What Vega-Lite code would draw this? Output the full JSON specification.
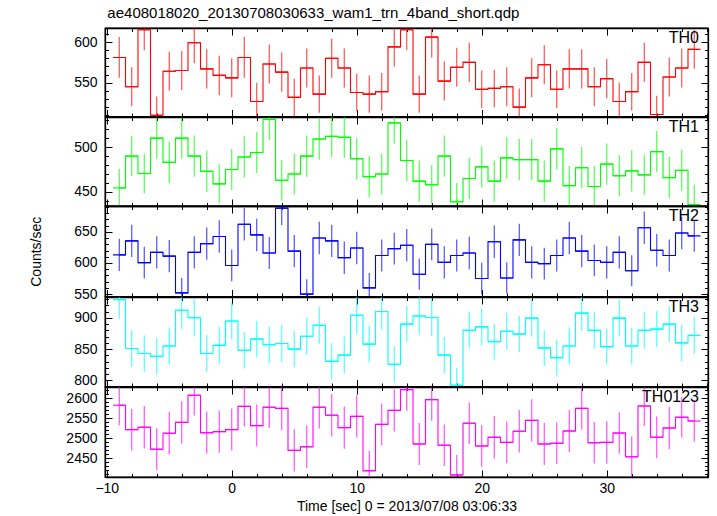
{
"$schema": "https://vega.github.io/schema/vega-lite/v6.json",
"padding": {"left": 28, "top": 5, "right": 7, "bottom": 0},
"title": {"text": "ae408018020_20130708030633_wam1_trn_4band_short.qdp", "anchor": "start", "dx": 79, "fontSize": 15, "fontWeight": "normal", "font": "Liberation Sans", "color": "black", "offset": 6},
"data": {"values": [
{"band":"TH0","t":-9,"rate":581,"err":25},{"band":"TH0","t":-8,"rate":545,"err":24},{"band":"TH0","t":-7,"rate":615,"err":25},{"band":"TH0","t":-6,"rate":510,"err":23},{"band":"TH0","t":-5,"rate":564,"err":24},{"band":"TH0","t":-4,"rate":565,"err":24},{"band":"TH0","t":-3,"rate":599,"err":25},{"band":"TH0","t":-2,"rate":567,"err":24},{"band":"TH0","t":-1,"rate":559,"err":24},{"band":"TH0","t":0,"rate":556,"err":24},{"band":"TH0","t":1,"rate":581,"err":25},{"band":"TH0","t":2,"rate":527,"err":23},{"band":"TH0","t":3,"rate":573,"err":24},{"band":"TH0","t":4,"rate":563,"err":24},{"band":"TH0","t":5,"rate":532,"err":23},{"band":"TH0","t":6,"rate":568,"err":24},{"band":"TH0","t":7,"rate":536,"err":23},{"band":"TH0","t":8,"rate":580,"err":24},{"band":"TH0","t":9,"rate":568,"err":24},{"band":"TH0","t":10,"rate":538,"err":23},{"band":"TH0","t":11,"rate":536,"err":23},{"band":"TH0","t":12,"rate":539,"err":23},{"band":"TH0","t":13,"rate":594,"err":24},{"band":"TH0","t":14,"rate":615,"err":25},{"band":"TH0","t":15,"rate":536,"err":23},{"band":"TH0","t":16,"rate":606,"err":25},{"band":"TH0","t":17,"rate":552,"err":24},{"band":"TH0","t":18,"rate":569,"err":24},{"band":"TH0","t":19,"rate":575,"err":24},{"band":"TH0","t":20,"rate":542,"err":23},{"band":"TH0","t":21,"rate":543,"err":23},{"band":"TH0","t":22,"rate":545,"err":24},{"band":"TH0","t":23,"rate":520,"err":23},{"band":"TH0","t":24,"rate":556,"err":24},{"band":"TH0","t":25,"rate":572,"err":24},{"band":"TH0","t":26,"rate":542,"err":23},{"band":"TH0","t":27,"rate":567,"err":24},{"band":"TH0","t":28,"rate":567,"err":24},{"band":"TH0","t":29,"rate":545,"err":24},{"band":"TH0","t":30,"rate":555,"err":24},{"band":"TH0","t":31,"rate":527,"err":23},{"band":"TH0","t":32,"rate":539,"err":23},{"band":"TH0","t":33,"rate":575,"err":24},{"band":"TH0","t":34,"rate":511,"err":23},{"band":"TH0","t":35,"rate":557,"err":24},{"band":"TH0","t":36,"rate":568,"err":24},{"band":"TH0","t":37,"rate":591,"err":24},
{"band":"TH1","t":-9,"rate":454.5,"err":21.5},{"band":"TH1","t":-8,"rate":490,"err":22.5},{"band":"TH1","t":-7,"rate":470.5,"err":22},{"band":"TH1","t":-6,"rate":510,"err":23},{"band":"TH1","t":-5,"rate":483,"err":23},{"band":"TH1","t":-4,"rate":510,"err":23},{"band":"TH1","t":-3,"rate":490,"err":23},{"band":"TH1","t":-2,"rate":473,"err":23},{"band":"TH1","t":-1,"rate":459,"err":22},{"band":"TH1","t":0,"rate":475,"err":23},{"band":"TH1","t":1,"rate":489,"err":23},{"band":"TH1","t":2,"rate":494,"err":23},{"band":"TH1","t":3,"rate":531,"err":23},{"band":"TH1","t":4,"rate":463,"err":22.5},{"band":"TH1","t":5,"rate":470,"err":23},{"band":"TH1","t":6,"rate":490,"err":23},{"band":"TH1","t":7,"rate":509,"err":23},{"band":"TH1","t":8,"rate":512,"err":23},{"band":"TH1","t":9,"rate":511,"err":23},{"band":"TH1","t":10,"rate":487,"err":23},{"band":"TH1","t":11,"rate":467,"err":23},{"band":"TH1","t":12,"rate":470,"err":23},{"band":"TH1","t":13,"rate":527,"err":23},{"band":"TH1","t":14,"rate":485,"err":23},{"band":"TH1","t":15,"rate":462,"err":23},{"band":"TH1","t":16,"rate":458,"err":22},{"band":"TH1","t":17,"rate":490,"err":23},{"band":"TH1","t":18,"rate":439,"err":21},{"band":"TH1","t":19,"rate":465,"err":23},{"band":"TH1","t":20,"rate":478,"err":23},{"band":"TH1","t":21,"rate":462,"err":23},{"band":"TH1","t":22,"rate":488,"err":23},{"band":"TH1","t":23,"rate":486,"err":23},{"band":"TH1","t":24,"rate":486,"err":23},{"band":"TH1","t":25,"rate":462,"err":23},{"band":"TH1","t":26,"rate":498,"err":23},{"band":"TH1","t":27,"rate":457,"err":22},{"band":"TH1","t":28,"rate":477,"err":23},{"band":"TH1","t":29,"rate":456,"err":23},{"band":"TH1","t":30,"rate":481,"err":23},{"band":"TH1","t":31,"rate":468,"err":23},{"band":"TH1","t":32,"rate":473.5,"err":23},{"band":"TH1","t":33,"rate":469,"err":22.5},{"band":"TH1","t":34,"rate":495,"err":23},{"band":"TH1","t":35,"rate":466,"err":23},{"band":"TH1","t":36,"rate":474,"err":23},{"band":"TH1","t":37,"rate":436,"err":22},
{"band":"TH2","t":-9,"rate":613,"err":26},{"band":"TH2","t":-8,"rate":635.5,"err":26},{"band":"TH2","t":-7,"rate":600.5,"err":25.5},{"band":"TH2","t":-6,"rate":617,"err":26},{"band":"TH2","t":-5,"rate":611,"err":26},{"band":"TH2","t":-4,"rate":552,"err":24},{"band":"TH2","t":-3,"rate":617,"err":26},{"band":"TH2","t":-2,"rate":631,"err":26},{"band":"TH2","t":-1,"rate":642.5,"err":26},{"band":"TH2","t":0,"rate":596,"err":25.5},{"band":"TH2","t":1,"rate":662,"err":26},{"band":"TH2","t":2,"rate":645,"err":26},{"band":"TH2","t":3,"rate":616,"err":25.5},{"band":"TH2","t":4,"rate":688,"err":27},{"band":"TH2","t":5,"rate":619,"err":26},{"band":"TH2","t":6,"rate":550,"err":24},{"band":"TH2","t":7,"rate":640,"err":26},{"band":"TH2","t":8,"rate":635.5,"err":26},{"band":"TH2","t":9,"rate":608.5,"err":26},{"band":"TH2","t":10,"rate":624,"err":26},{"band":"TH2","t":11,"rate":560,"err":24},{"band":"TH2","t":12,"rate":612,"err":25.5},{"band":"TH2","t":13,"rate":623,"err":25.5},{"band":"TH2","t":14,"rate":628.5,"err":26},{"band":"TH2","t":15,"rate":582,"err":25},{"band":"TH2","t":16,"rate":630,"err":25.5},{"band":"TH2","t":17,"rate":601,"err":26},{"band":"TH2","t":18,"rate":612,"err":25.5},{"band":"TH2","t":19,"rate":616,"err":26},{"band":"TH2","t":20,"rate":575,"err":25.5},{"band":"TH2","t":21,"rate":634,"err":26},{"band":"TH2","t":22,"rate":576,"err":25},{"band":"TH2","t":23,"rate":637,"err":26},{"band":"TH2","t":24,"rate":601,"err":26},{"band":"TH2","t":25,"rate":599,"err":25.5},{"band":"TH2","t":26,"rate":612,"err":25.5},{"band":"TH2","t":27,"rate":640,"err":26},{"band":"TH2","t":28,"rate":619,"err":26},{"band":"TH2","t":29,"rate":604,"err":25.5},{"band":"TH2","t":30,"rate":601,"err":26},{"band":"TH2","t":31,"rate":617,"err":26},{"band":"TH2","t":32,"rate":587.5,"err":25},{"band":"TH2","t":33,"rate":656.5,"err":26},{"band":"TH2","t":34,"rate":620.5,"err":26},{"band":"TH2","t":35,"rate":612,"err":25.5},{"band":"TH2","t":36,"rate":648,"err":26},{"band":"TH2","t":37,"rate":643.5,"err":25.5},
{"band":"TH3","t":-9,"rate":929,"err":30},{"band":"TH3","t":-8,"rate":851,"err":29},{"band":"TH3","t":-7,"rate":843,"err":29},{"band":"TH3","t":-6,"rate":838.5,"err":29},{"band":"TH3","t":-5,"rate":855,"err":29.5},{"band":"TH3","t":-4,"rate":912,"err":30},{"band":"TH3","t":-3,"rate":900,"err":30},{"band":"TH3","t":-2,"rate":843,"err":29},{"band":"TH3","t":-1,"rate":856,"err":29.5},{"band":"TH3","t":0,"rate":895,"err":29.5},{"band":"TH3","t":1,"rate":848,"err":29},{"band":"TH3","t":2,"rate":866,"err":29},{"band":"TH3","t":3,"rate":857,"err":29.5},{"band":"TH3","t":4,"rate":859,"err":29.5},{"band":"TH3","t":5,"rate":850,"err":29},{"band":"TH3","t":6,"rate":870.5,"err":29.5},{"band":"TH3","t":7,"rate":888,"err":29.5},{"band":"TH3","t":8,"rate":830.5,"err":29},{"band":"TH3","t":9,"rate":840.5,"err":29.5},{"band":"TH3","t":10,"rate":904,"err":29.5},{"band":"TH3","t":11,"rate":858,"err":29},{"band":"TH3","t":12,"rate":910,"err":29},{"band":"TH3","t":13,"rate":826,"err":29},{"band":"TH3","t":14,"rate":890,"err":29},{"band":"TH3","t":15,"rate":903,"err":30},{"band":"TH3","t":16,"rate":900.5,"err":29.5},{"band":"TH3","t":17,"rate":840.5,"err":29},{"band":"TH3","t":18,"rate":792.5,"err":28},{"band":"TH3","t":19,"rate":880,"err":29.5},{"band":"TH3","t":20,"rate":885.5,"err":29.5},{"band":"TH3","t":21,"rate":862,"err":29},{"band":"TH3","t":22,"rate":878.5,"err":29.5},{"band":"TH3","t":23,"rate":874,"err":29},{"band":"TH3","t":24,"rate":899.5,"err":29.5},{"band":"TH3","t":25,"rate":852,"err":29},{"band":"TH3","t":26,"rate":836.5,"err":29},{"band":"TH3","t":27,"rate":855,"err":29.5},{"band":"TH3","t":28,"rate":907.5,"err":28.5},{"band":"TH3","t":29,"rate":880,"err":29.5},{"band":"TH3","t":30,"rate":854,"err":29},{"band":"TH3","t":31,"rate":899.5,"err":29},{"band":"TH3","t":32,"rate":855,"err":29.5},{"band":"TH3","t":33,"rate":880,"err":29.5},{"band":"TH3","t":34,"rate":882,"err":29},{"band":"TH3","t":35,"rate":890,"err":29},{"band":"TH3","t":36,"rate":860,"err":29},{"band":"TH3","t":37,"rate":872,"err":29.5},
{"band":"TH0123","t":-9,"rate":2582,"err":50},{"band":"TH0123","t":-8,"rate":2521,"err":52},{"band":"TH0123","t":-7,"rate":2527,"err":53},{"band":"TH0123","t":-6,"rate":2472,"err":52.5},{"band":"TH0123","t":-5,"rate":2512,"err":53},{"band":"TH0123","t":-4,"rate":2539,"err":53},{"band":"TH0123","t":-3,"rate":2607,"err":51},{"band":"TH0123","t":-2,"rate":2513,"err":52.5},{"band":"TH0123","t":-1,"rate":2516,"err":53},{"band":"TH0123","t":0,"rate":2521,"err":52.5},{"band":"TH0123","t":1,"rate":2579,"err":50},{"band":"TH0123","t":2,"rate":2531,"err":52.5},{"band":"TH0123","t":3,"rate":2577,"err":52},{"band":"TH0123","t":4,"rate":2574,"err":54},{"band":"TH0123","t":5,"rate":2469,"err":53},{"band":"TH0123","t":6,"rate":2478,"err":53},{"band":"TH0123","t":7,"rate":2577,"err":53},{"band":"TH0123","t":8,"rate":2557,"err":53},{"band":"TH0123","t":9,"rate":2526,"err":53},{"band":"TH0123","t":10,"rate":2554,"err":53},{"band":"TH0123","t":11,"rate":2418,"err":50},{"band":"TH0123","t":12,"rate":2534,"err":52},{"band":"TH0123","t":13,"rate":2569,"err":53},{"band":"TH0123","t":14,"rate":2621,"err":53},{"band":"TH0123","t":15,"rate":2485,"err":52.5},{"band":"TH0123","t":16,"rate":2596,"err":53},{"band":"TH0123","t":17,"rate":2482,"err":52},{"band":"TH0123","t":18,"rate":2407.5,"err":50},{"band":"TH0123","t":19,"rate":2537,"err":52},{"band":"TH0123","t":20,"rate":2480,"err":52},{"band":"TH0123","t":21,"rate":2502,"err":53},{"band":"TH0123","t":22,"rate":2489,"err":52},{"band":"TH0123","t":23,"rate":2517,"err":53},{"band":"TH0123","t":24,"rate":2544,"err":53},{"band":"TH0123","t":25,"rate":2485,"err":52.5},{"band":"TH0123","t":26,"rate":2487,"err":52},{"band":"TH0123","t":27,"rate":2517.5,"err":52.5},{"band":"TH0123","t":28,"rate":2574,"err":53},{"band":"TH0123","t":29,"rate":2488,"err":52},{"band":"TH0123","t":30,"rate":2489,"err":53},{"band":"TH0123","t":31,"rate":2512.5,"err":52},{"band":"TH0123","t":32,"rate":2453,"err":51},{"band":"TH0123","t":33,"rate":2580,"err":50},{"band":"TH0123","t":34,"rate":2502,"err":52},{"band":"TH0123","t":35,"rate":2525,"err":53},{"band":"TH0123","t":36,"rate":2552,"err":51},{"band":"TH0123","t":37,"rate":2542.5,"err":52}
]},
"vconcat": [
{"height": 88.5, "width": 603,
 "title": {"text": "TH0", "anchor": "end", "frame": "group", "offset": -18, "dx": -9, "fontSize": 16, "fontWeight": "normal", "font": "Liberation Sans", "color": "black"},
 "transform": [{"filter": "datum.band === 'TH0'"}],
 "layer": [
  {"mark": {"type": "tick", "orient": "horizontal", "size": 12.5, "thickness": 1.1, "color": "#ff0000", "opacity": 1, "clip": true},
   "encoding": {
    "x": {"field": "t", "type": "quantitative", "scale": {"domain": [-10.14, 38.1], "nice": false, "zero": false}, "axis": {"orient": "bottom", "values": [-10,-8,-6,-4,-2,0,2,4,6,8,10,12,14,16,18,20,22,24,26,28,30,32,34,36,38], "tickSize": {"condition": {"test": "datum.value % 10 === 0", "value": -7}, "value": -3.5}, "labels": false, "title": null}},
    "y": {"field": "rate", "type": "quantitative", "scale": {"domain": [508.5, 617.2], "nice": false, "zero": false}, "axis": {"orient": "left", "values": [510,520,530,540,550,560,570,580,590,600,610], "tickSize": {"condition": {"test": "datum.value % 50 === 0", "value": -7}, "value": -3.5}, "labelExpr": "datum.value % 50 === 0 ? datum.label : ''", "format": "d", "title": null}}}},
  {"mark": {"type": "line", "interpolate": "step", "color": "#ff0000", "strokeWidth": 1.1, "clip": true},
   "encoding": {
    "x": {"field": "t", "type": "quantitative", "scale": {"domain": [-10.14, 38.1], "nice": false, "zero": false}, "axis": {"orient": "top", "values": [-10,-8,-6,-4,-2,0,2,4,6,8,10,12,14,16,18,20,22,24,26,28,30,32,34,36,38], "tickSize": {"condition": {"test": "datum.value % 10 === 0", "value": -7}, "value": -3.5}, "labels": false, "title": null}},
    "y": {"field": "rate", "type": "quantitative", "scale": {"domain": [508.5, 617.2], "nice": false, "zero": false}, "axis": {"orient": "right", "values": [510,520,530,540,550,560,570,580,590,600,610], "tickSize": {"condition": {"test": "datum.value % 50 === 0", "value": -7}, "value": -3.5}, "labels": false, "title": null}}}},
  {"mark": {"type": "errorbar", "color": "#ff0000", "thickness": 1.1, "opacity": 0.75, "clip": true},
   "encoding": {
    "x": {"field": "t", "type": "quantitative", "scale": {"domain": [-10.14, 38.1], "nice": false, "zero": false}, "axis": null},
    "y": {"field": "rate", "type": "quantitative", "scale": {"domain": [508.5, 617.2], "nice": false, "zero": false}, "axis": null},
    "yError": {"field": "err"}}}
 ],
 "resolve": {"axis": {"x": "independent", "y": "independent"}}
},
{"height": 89, "width": 603,
 "title": {"text": "TH1", "anchor": "end", "frame": "group", "offset": -18, "dx": -9, "fontSize": 16, "fontWeight": "normal", "font": "Liberation Sans", "color": "black"},
 "transform": [{"filter": "datum.band === 'TH1'"}],
 "layer": [
  {"mark": {"type": "tick", "orient": "horizontal", "size": 12.5, "thickness": 1.1, "color": "#00ff00", "opacity": 1, "clip": true},
   "encoding": {
    "x": {"field": "t", "type": "quantitative", "scale": {"domain": [-10.14, 38.1], "nice": false, "zero": false}, "axis": {"orient": "bottom", "values": [-10,-8,-6,-4,-2,0,2,4,6,8,10,12,14,16,18,20,22,24,26,28,30,32,34,36,38], "tickSize": {"condition": {"test": "datum.value % 10 === 0", "value": -7}, "value": -3.5}, "labels": false, "title": null}},
    "y": {"field": "rate", "type": "quantitative", "scale": {"domain": [434.3, 533.6], "nice": false, "zero": false}, "axis": {"orient": "left", "values": [440,450,460,470,480,490,500,510,520,530], "tickSize": {"condition": {"test": "datum.value % 50 === 0", "value": -7}, "value": -3.5}, "labelExpr": "datum.value % 50 === 0 ? datum.label : ''", "format": "d", "title": null}}}},
  {"mark": {"type": "line", "interpolate": "step", "color": "#00ff00", "strokeWidth": 1.1, "clip": true},
   "encoding": {
    "x": {"field": "t", "type": "quantitative", "scale": {"domain": [-10.14, 38.1], "nice": false, "zero": false}, "axis": {"orient": "top", "values": [-10,-8,-6,-4,-2,0,2,4,6,8,10,12,14,16,18,20,22,24,26,28,30,32,34,36,38], "tickSize": {"condition": {"test": "datum.value % 10 === 0", "value": -7}, "value": -3.5}, "labels": false, "title": null}},
    "y": {"field": "rate", "type": "quantitative", "scale": {"domain": [434.3, 533.6], "nice": false, "zero": false}, "axis": {"orient": "right", "values": [440,450,460,470,480,490,500,510,520,530], "tickSize": {"condition": {"test": "datum.value % 50 === 0", "value": -7}, "value": -3.5}, "labels": false, "title": null}}}},
  {"mark": {"type": "errorbar", "color": "#00ff00", "thickness": 1.1, "opacity": 0.75, "clip": true},
   "encoding": {
    "x": {"field": "t", "type": "quantitative", "scale": {"domain": [-10.14, 38.1], "nice": false, "zero": false}, "axis": null},
    "y": {"field": "rate", "type": "quantitative", "scale": {"domain": [434.3, 533.6], "nice": false, "zero": false}, "axis": null},
    "yError": {"field": "err"}}}
 ],
 "resolve": {"axis": {"x": "independent", "y": "independent"}}
},
{"height": 90.5, "width": 603,
 "title": {"text": "TH2", "anchor": "end", "frame": "group", "offset": -18, "dx": -9, "fontSize": 16, "fontWeight": "normal", "font": "Liberation Sans", "color": "black"},
 "transform": [{"filter": "datum.band === 'TH2'"}],
 "layer": [
  {"mark": {"type": "tick", "orient": "horizontal", "size": 12.5, "thickness": 1.1, "color": "#0000ff", "opacity": 1, "clip": true},
   "encoding": {
    "x": {"field": "t", "type": "quantitative", "scale": {"domain": [-10.14, 38.1], "nice": false, "zero": false}, "axis": {"orient": "bottom", "values": [-10,-8,-6,-4,-2,0,2,4,6,8,10,12,14,16,18,20,22,24,26,28,30,32,34,36,38], "tickSize": {"condition": {"test": "datum.value % 10 === 0", "value": -7}, "value": -3.5}, "labels": false, "title": null}},
    "y": {"field": "rate", "type": "quantitative", "scale": {"domain": [546.2, 691.4], "nice": false, "zero": false}, "axis": {"orient": "left", "values": [550,560,570,580,590,600,610,620,630,640,650,660,670,680,690], "tickSize": {"condition": {"test": "datum.value % 50 === 0", "value": -7}, "value": -3.5}, "labelExpr": "datum.value % 50 === 0 ? datum.label : ''", "format": "d", "title": "Counts/sec", "titleX": -62}}}},
  {"mark": {"type": "line", "interpolate": "step", "color": "#0000ff", "strokeWidth": 1.1, "clip": true},
   "encoding": {
    "x": {"field": "t", "type": "quantitative", "scale": {"domain": [-10.14, 38.1], "nice": false, "zero": false}, "axis": {"orient": "top", "values": [-10,-8,-6,-4,-2,0,2,4,6,8,10,12,14,16,18,20,22,24,26,28,30,32,34,36,38], "tickSize": {"condition": {"test": "datum.value % 10 === 0", "value": -7}, "value": -3.5}, "labels": false, "title": null}},
    "y": {"field": "rate", "type": "quantitative", "scale": {"domain": [546.2, 691.4], "nice": false, "zero": false}, "axis": {"orient": "right", "values": [550,560,570,580,590,600,610,620,630,640,650,660,670,680,690], "tickSize": {"condition": {"test": "datum.value % 50 === 0", "value": -7}, "value": -3.5}, "labels": false, "title": null}}}},
  {"mark": {"type": "errorbar", "color": "#0000ff", "thickness": 1.1, "opacity": 0.75, "clip": true},
   "encoding": {
    "x": {"field": "t", "type": "quantitative", "scale": {"domain": [-10.14, 38.1], "nice": false, "zero": false}, "axis": null},
    "y": {"field": "rate", "type": "quantitative", "scale": {"domain": [546.2, 691.4], "nice": false, "zero": false}, "axis": null},
    "yError": {"field": "err"}}}
 ],
 "resolve": {"axis": {"x": "independent", "y": "independent"}}
},
{"height": 89.5, "width": 603,
 "title": {"text": "TH3", "anchor": "end", "frame": "group", "offset": -18, "dx": -9, "fontSize": 16, "fontWeight": "normal", "font": "Liberation Sans", "color": "black"},
 "transform": [{"filter": "datum.band === 'TH3'"}],
 "layer": [
  {"mark": {"type": "tick", "orient": "horizontal", "size": 12.5, "thickness": 1.1, "color": "#00ffff", "opacity": 1, "clip": true},
   "encoding": {
    "x": {"field": "t", "type": "quantitative", "scale": {"domain": [-10.14, 38.1], "nice": false, "zero": false}, "axis": {"orient": "bottom", "values": [-10,-8,-6,-4,-2,0,2,4,6,8,10,12,14,16,18,20,22,24,26,28,30,32,34,36,38], "tickSize": {"condition": {"test": "datum.value % 10 === 0", "value": -7}, "value": -3.5}, "labels": false, "title": null}},
    "y": {"field": "rate", "type": "quantitative", "scale": {"domain": [790.4, 933.2], "nice": false, "zero": false}, "axis": {"orient": "left", "values": [800,810,820,830,840,850,860,870,880,890,900,910,920,930], "tickSize": {"condition": {"test": "datum.value % 50 === 0", "value": -7}, "value": -3.5}, "labelExpr": "datum.value % 50 === 0 ? datum.label : ''", "format": "d", "title": null}}}},
  {"mark": {"type": "line", "interpolate": "step", "color": "#00ffff", "strokeWidth": 1.1, "clip": true},
   "encoding": {
    "x": {"field": "t", "type": "quantitative", "scale": {"domain": [-10.14, 38.1], "nice": false, "zero": false}, "axis": {"orient": "top", "values": [-10,-8,-6,-4,-2,0,2,4,6,8,10,12,14,16,18,20,22,24,26,28,30,32,34,36,38], "tickSize": {"condition": {"test": "datum.value % 10 === 0", "value": -7}, "value": -3.5}, "labels": false, "title": null}},
    "y": {"field": "rate", "type": "quantitative", "scale": {"domain": [790.4, 933.2], "nice": false, "zero": false}, "axis": {"orient": "right", "values": [800,810,820,830,840,850,860,870,880,890,900,910,920,930], "tickSize": {"condition": {"test": "datum.value % 50 === 0", "value": -7}, "value": -3.5}, "labels": false, "title": null}}}},
  {"mark": {"type": "errorbar", "color": "#00ffff", "thickness": 1.1, "opacity": 0.75, "clip": true},
   "encoding": {
    "x": {"field": "t", "type": "quantitative", "scale": {"domain": [-10.14, 38.1], "nice": false, "zero": false}, "axis": null},
    "y": {"field": "rate", "type": "quantitative", "scale": {"domain": [790.4, 933.2], "nice": false, "zero": false}, "axis": null},
    "yError": {"field": "err"}}}
 ],
 "resolve": {"axis": {"x": "independent", "y": "independent"}}
},
{"height": 90, "width": 603,
 "title": {"text": "TH0123", "anchor": "end", "frame": "group", "offset": -18, "dx": -9, "fontSize": 16, "fontWeight": "normal", "font": "Liberation Sans", "color": "black"},
 "transform": [{"filter": "datum.band === 'TH0123'"}],
 "layer": [
  {"mark": {"type": "tick", "orient": "horizontal", "size": 12.5, "thickness": 1.1, "color": "#ff00ff", "opacity": 1, "clip": true},
   "encoding": {
    "x": {"field": "t", "type": "quantitative", "scale": {"domain": [-10.14, 38.1], "nice": false, "zero": false}, "axis": {"orient": "bottom", "values": [-10,-8,-6,-4,-2,0,2,4,6,8,10,12,14,16,18,20,22,24,26,28,30,32,34,36,38], "tickSize": {"condition": {"test": "datum.value % 10 === 0", "value": -7}, "value": -3.5}, "labelExpr": "datum.value % 10 === 0 ? datum.label : ''", "format": "d", "labelPadding": 11, "title": "Time [sec] 0 = 2013/07/08 03:06:33"}},
    "y": {"field": "rate", "type": "quantitative", "scale": {"domain": [2402.5, 2627.5], "nice": false, "zero": false}, "axis": {"orient": "left", "values": [2410,2420,2430,2440,2450,2460,2470,2480,2490,2500,2510,2520,2530,2540,2550,2560,2570,2580,2590,2600,2610,2620], "tickSize": {"condition": {"test": "datum.value % 50 === 0", "value": -7}, "value": -3.5}, "labelExpr": "datum.value % 50 === 0 ? datum.label : ''", "format": "d", "title": null}}}},
  {"mark": {"type": "line", "interpolate": "step", "color": "#ff00ff", "strokeWidth": 1.1, "clip": true},
   "encoding": {
    "x": {"field": "t", "type": "quantitative", "scale": {"domain": [-10.14, 38.1], "nice": false, "zero": false}, "axis": {"orient": "top", "values": [-10,-8,-6,-4,-2,0,2,4,6,8,10,12,14,16,18,20,22,24,26,28,30,32,34,36,38], "tickSize": {"condition": {"test": "datum.value % 10 === 0", "value": -7}, "value": -3.5}, "labels": false, "title": null}},
    "y": {"field": "rate", "type": "quantitative", "scale": {"domain": [2402.5, 2627.5], "nice": false, "zero": false}, "axis": {"orient": "right", "values": [2410,2420,2430,2440,2450,2460,2470,2480,2490,2500,2510,2520,2530,2540,2550,2560,2570,2580,2590,2600,2610,2620], "tickSize": {"condition": {"test": "datum.value % 50 === 0", "value": -7}, "value": -3.5}, "labels": false, "title": null}}}},
  {"mark": {"type": "errorbar", "color": "#ff00ff", "thickness": 1.1, "opacity": 0.75, "clip": true},
   "encoding": {
    "x": {"field": "t", "type": "quantitative", "scale": {"domain": [-10.14, 38.1], "nice": false, "zero": false}, "axis": null},
    "y": {"field": "rate", "type": "quantitative", "scale": {"domain": [2402.5, 2627.5], "nice": false, "zero": false}, "axis": null},
    "yError": {"field": "err"}}}
 ],
 "resolve": {"axis": {"x": "independent", "y": "independent"}}
}
],
"spacing": 0,
"bounds": "flush",
"config": {
 "view": {"stroke": "black", "strokeWidth": 1.3},
 "axis": {"domainColor": "black", "domainWidth": 1.3, "tickColor": "black", "tickWidth": 1, "grid": false, "labelFont": "Liberation Sans", "labelFontSize": 14, "labelColor": "black", "labelPadding": 15, "labelFlush": false, "titleFont": "Liberation Sans", "titleFontSize": 14, "titleFontWeight": "normal", "titleColor": "black"}
}
}
